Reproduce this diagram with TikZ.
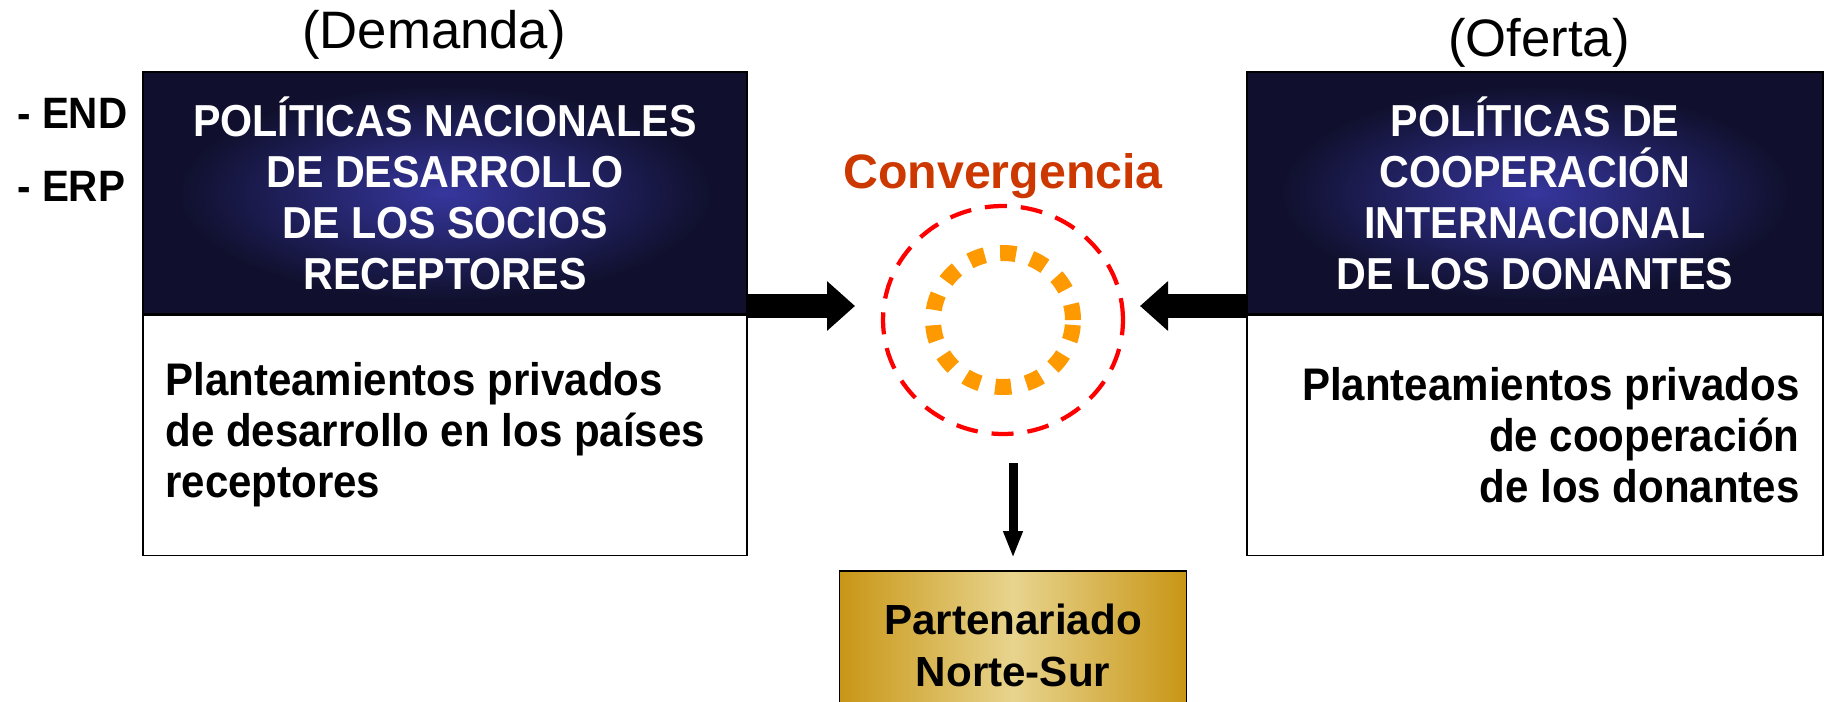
\documentclass[tikz,border=0pt]{standalone}
\usepackage{fontspec}
\setmainfont{Liberation Sans}
\newfontfamily\narrowfont{Liberation Sans}[FakeStretch=0.92]
\usetikzlibrary{arrows.meta,shapes.geometric,positioning}

\definecolor{navycore}{RGB}{54,54,158}
\definecolor{navyedge}{RGB}{16,16,46}
\definecolor{convred}{RGB}{204,56,0}
\definecolor{dotorange}{RGB}{255,153,0}
\definecolor{goldedge}{RGB}{200,150,22}
\definecolor{goldcore}{RGB}{232,212,142}
\pgfdeclareradialshading{navyglow}{\pgfpoint{0bp}{0bp}}{color(0bp)=(navycore); color(22bp)=(navyedge); color(50bp)=(navyedge)}

\begin{document}
\begin{tikzpicture}[x=0.02cm, y=-0.02cm,
	policybox/.style={draw=black, line width=0.03cm, shading=navyglow, text=white, inner sep=0pt, align=center, font=\narrowfont\bfseries\fontsize{25.5}{29}\selectfont},
	privbox/.style={draw=black, line width=0.03cm, fill=white, inner sep=0pt},
	privtext/.style={inner sep=0pt, font=\narrowfont\bfseries\fontsize{26}{29}\selectfont},
	sidetag/.style={inner sep=0pt, font=\fontsize{30}{34}\selectfont},
	bigarrow/.style={line width=0.5cm, -{Triangle[length=0.56cm, width=0.96cm]}},
	downarrow/.style={line width=0.18cm, -{Triangle[length=0.54cm, width=0.36cm]}, shorten >=0.24cm}]
	% page frame
	\clip (0,0) rectangle (1824,702);
	
	% Demand side (left)
	\node[sidetag] (demandTag) at (434,35) {(Demanda)};
	\node[policybox, minimum width=12.08cm, minimum height=4.84cm] (demandPol) at (445,193) {POLÍTICAS NACIONALES\\DE DESARROLLO\\DE LOS SOCIOS\\RECEPTORES};
	\node[privbox, minimum width=12.08cm, minimum height=4.8cm, below=0pt of demandPol] (demandPriv) {};
	\node[privtext, anchor=west, align=left] (demandTxt) at (165,435) {Planteamientos privados\\de desarrollo en los países\\receptores};
	
	% strategies
	\node[inner sep=0pt, anchor=west, font=\narrowfont\bfseries\fontsize{25}{29}\selectfont] (endTag) at (17,113) {- END};
	\node[inner sep=0pt, anchor=west, font=\narrowfont\bfseries\fontsize{25}{29}\selectfont] (erpTag) at (17,186) {- ERP};
	
	% Supply side (right)
	\node[sidetag] (supplyTag) at (1539,43) {(Oferta)};
	\node[policybox, minimum width=11.52cm, minimum height=4.84cm] (supplyPol) at (1535,193) {POLÍTICAS DE\\COOPERACIÓN\\INTERNACIONAL\\DE LOS DONANTES};
	\node[privbox, minimum width=11.52cm, minimum height=4.8cm, below=0pt of supplyPol] (supplyPriv) {};
	\node[privtext, anchor=east, align=right] (supplyTxt) at (1800,435) {Planteamientos privados\\de cooperación\\de los donantes};
	
	%% Convergence
	\node[inner sep=0pt, text=convred, font=\bfseries\fontsize{27.5}{32}\selectfont] (convTitle) at (1003,176) {Convergencia};
	\node[ellipse, draw=red, line width=0.085cm, dash pattern=on 0.44cm off 0.28cm, minimum width=4.8cm, minimum height=4.56cm, inner sep=0pt] (convRed) at (1003,320) {};
	\node[ellipse, draw=dotorange, line width=0.32cm, dash pattern=on 0.32cm off 0.31cm, minimum width=2.8cm, minimum height=2.68cm, inner sep=0pt] (convOrange) at (1003,320) {};
	
	% Partnership
	\node[draw=black, line width=0.03cm, left color=goldedge, right color=goldedge, middle color=goldcore, minimum width=6.94cm, minimum height=3cm, anchor=north, align=center, font=\bfseries\fontsize{24}{29.6}\selectfont] (partner) at (1013,570) {Partenariado\\Norte-Sur};
	
	%% arrows
	\coordinate (inL) at (855,306);
	\coordinate (inR) at (1140,306);
	\coordinate (outTop) at (1013,463);
	\draw[bigarrow] (inL -| demandPol.east) -- (inL);
	\draw[bigarrow] (inR -| supplyPol.west) -- (inR);
	\draw[downarrow] (outTop) -- (partner.north);
\end{tikzpicture}
\end{document}
